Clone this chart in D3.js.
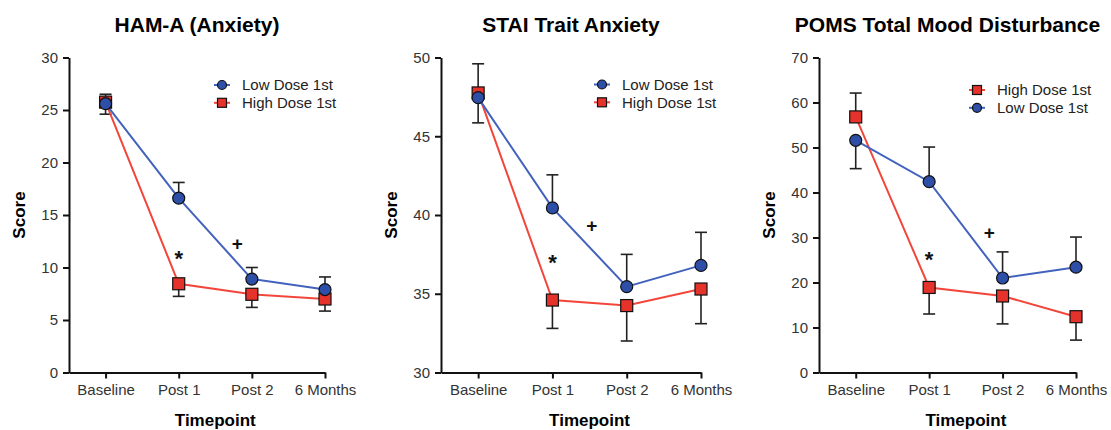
<!DOCTYPE html>
<html><head><meta charset="utf-8">
<script src="https://cdn.jsdelivr.net/npm/d3@7"></script>
<style>
html,body{margin:0;padding:0;background:#fff;}
svg{display:block;font-family:"Liberation Sans",Arial,sans-serif;}
</style></head>
<body>
<svg id="chart" width="1111" height="430"></svg>
<script>
// ---- Data ----
const timepoints = ["Baseline", "Post 1", "Post 2", "6 Months"];
const titles = ["HAM-A (Anxiety)", "STAI Trait Anxiety", "POMS Total Mood Disturbance"];
const yDomains = [[0, 30], [30, 50], [0, 70]];
const yTicks = [[0, 5, 10, 15, 20, 25, 30], [30, 35, 40, 45, 50], [0, 10, 20, 30, 40, 50, 60, 70]];

const hamLow = [25.6, 16.6, 8.9, 7.9];
const hamLowErr = [1.0, 1.5, 1.1, 1.2];
const hamHigh = [25.75, 8.45, 7.45, 7.0];
const hamHighErr = [0.75, 1.2, 1.25, 1.15];

const staiLow = [47.45, 40.45, 35.45, 36.8];
const staiLowErr = [1.6, 2.1, 2.05, 2.1];
const staiHigh = [47.75, 34.6, 34.25, 35.3];
const staiHighErr = [1.85, 1.8, 2.25, 2.2];

const pomsLow = [51.6, 42.4, 21.0, 23.4];
const pomsLowErr = [6.3, 7.7, 5.8, 6.7];
const pomsHigh = [56.8, 18.9, 17.0, 12.4];
const pomsHighErr = [5.3, 5.9, 6.2, 5.2];

// significance markers: [symbol, timepoint position, score]
const hamMarks = [["*", 1, 11.4], ["+", 1.8, 12.3]];
const staiMarks = [["*", 1, 37.4], ["+", 1.53, 39.3]];
const pomsMarks = [["*", 1, 26.4], ["+", 1.82, 31.0]];

const lowName = "Low Dose 1st", highName = "High Dose 1st";

// ---- Layout / style ----
const BLUE_FILL = "#2d4fa8", BLUE_LINE = "#4262bd";
const RED_FILL = "#e5322a", RED_LINE = "#f2463b";

const panels = [
  {left: 69, right: 325, low: hamLow, lowErr: hamLowErr, high: hamHigh, highErr: hamHighErr,
   marks: hamMarks, legendOrder: ["low", "high"], legX: 222, legY: 85},
  {left: 441, right: 701, low: staiLow, lowErr: staiLowErr, high: staiHigh, highErr: staiHighErr,
   marks: staiMarks, legendOrder: ["low", "high"], legX: 602, legY: 84.5},
  {left: 819, right: 1076, low: pomsLow, lowErr: pomsLowErr, high: pomsHigh, highErr: pomsHighErr,
   marks: pomsMarks, legendOrder: ["high", "low"], legX: 977, legY: 90}
];
const TOP = 57.5, BOTTOM = 372.5;

const svg = d3.select("#chart");

function drawMarker(g, kind, x, y, size) {
  if (kind === "low") {
    g.append("circle").attr("cx", x).attr("cy", y).attr("r", size / 2)
      .attr("fill", BLUE_FILL).attr("stroke", "#111").attr("stroke-width", 1.2);
  } else {
    g.append("rect").attr("x", x - size / 2).attr("y", y - size / 2)
      .attr("width", size).attr("height", size)
      .attr("fill", RED_FILL).attr("stroke", "#111").attr("stroke-width", 1.2);
  }
}

panels.forEach((p, pi) => {
  const g = svg.append("g");
  const x = d3.scaleLinear().domain([-0.5, 3]).range([p.left, p.right]);
  const y = d3.scaleLinear().domain(yDomains[pi]).range([BOTTOM, TOP]);

  // Title
  g.append("text").attr("x", (p.left + p.right) / 2).attr("y", 32)
    .attr("text-anchor", "middle").attr("font-weight", "bold").attr("font-size", 21)
    .attr("fill", "#000").text(titles[pi]);

  // Y axis
  const ya = g.append("g").attr("transform", `translate(${p.left},0)`)
    .call(d3.axisLeft(y).tickValues(yTicks[pi]).tickSize(6).tickPadding(5).tickSizeOuter(0));
  ya.select(".domain").attr("stroke", "#111").attr("stroke-width", 2);
  ya.selectAll(".tick line").attr("stroke", "#111").attr("stroke-width", 2);
  ya.selectAll(".tick text").attr("font-size", 15).attr("fill", "#333")
    .attr("font-family", "Liberation Sans, Arial, sans-serif");

  // X axis
  const xa = g.append("g").attr("transform", `translate(0,${BOTTOM})`)
    .call(d3.axisBottom(x).tickValues([0, 1, 2, 3]).tickFormat(i => timepoints[i])
      .tickSize(6).tickPadding(6).tickSizeOuter(0));
  xa.select(".domain").attr("stroke", "#111").attr("stroke-width", 2);
  xa.selectAll(".tick line").attr("stroke", "#111").attr("stroke-width", 2);
  xa.selectAll(".tick text").attr("font-size", 15).attr("fill", "#333")
    .attr("font-family", "Liberation Sans, Arial, sans-serif");

  // Axis titles
  g.append("text").attr("x", (x(0) + x(3)) / 2).attr("y", 426)
    .attr("text-anchor", "middle").attr("font-weight", "bold").attr("font-size", 17)
    .text("Timepoint");
  g.append("text")
    .attr("transform", `translate(${p.left - 44},${(TOP + BOTTOM) / 2}) rotate(-90)`)
    .attr("text-anchor", "middle").attr("font-weight", "bold").attr("font-size", 17)
    .text("Score");

  const series = {
    low: {vals: p.low, err: p.lowErr, other: p.high, line: BLUE_LINE},
    high: {vals: p.high, err: p.highErr, other: p.low, line: RED_LINE}
  };

  const drawOrder = ["high", "low"];
  const capW = 6;
  // Error bars (one-sided: away from the other series)
  drawOrder.forEach(k => {
    const s = series[k];
    s.vals.forEach((v, i) => {
      const dir = v >= s.other[i] ? 1 : -1;
      const end = v + dir * s.err[i];
      g.append("line").attr("x1", x(i)).attr("x2", x(i)).attr("y1", y(v)).attr("y2", y(end))
        .attr("stroke", "#222").attr("stroke-width", 1.6);
      g.append("line").attr("x1", x(i) - capW).attr("x2", x(i) + capW).attr("y1", y(end)).attr("y2", y(end))
        .attr("stroke", "#222").attr("stroke-width", 1.6);
    });
  });
  // Lines
  const lineGen = d3.line().x((d, i) => x(i)).y(d => y(d));
  drawOrder.forEach(k => {
    g.append("path").datum(series[k].vals).attr("d", lineGen)
      .attr("fill", "none").attr("stroke", series[k].line).attr("stroke-width", 2);
  });
  // Markers
  drawOrder.forEach(k => {
    series[k].vals.forEach((v, i) => drawMarker(g, k, x(i), y(v), 12));
  });

  // Significance symbols
  p.marks.forEach(([sym, xi, v]) => {
    const fs = sym === "*" ? 22 : 19;
    const off = sym === "*" ? 0.62 * fs : 0.34 * fs;
    g.append("text").attr("x", x(xi)).attr("y", y(v) + off)
      .attr("text-anchor", "middle").attr("font-weight", "bold").attr("font-size", fs)
      .attr("fill", "#111").text(sym);
  });

  // Legend
  p.legendOrder.forEach((k, j) => {
    const ly = p.legY + j * 17.8;
    g.append("line").attr("x1", p.legX - 8).attr("x2", p.legX + 8).attr("y1", ly).attr("y2", ly)
      .attr("stroke", series[k].line).attr("stroke-width", 2);
    drawMarker(g, k, p.legX, ly, 9);
    g.append("text").attr("x", p.legX + 20).attr("y", ly + 5.3)
      .attr("font-size", 15).attr("fill", "#222")
      .text(k === "low" ? lowName : highName);
  });
});
</script>
</body></html>
